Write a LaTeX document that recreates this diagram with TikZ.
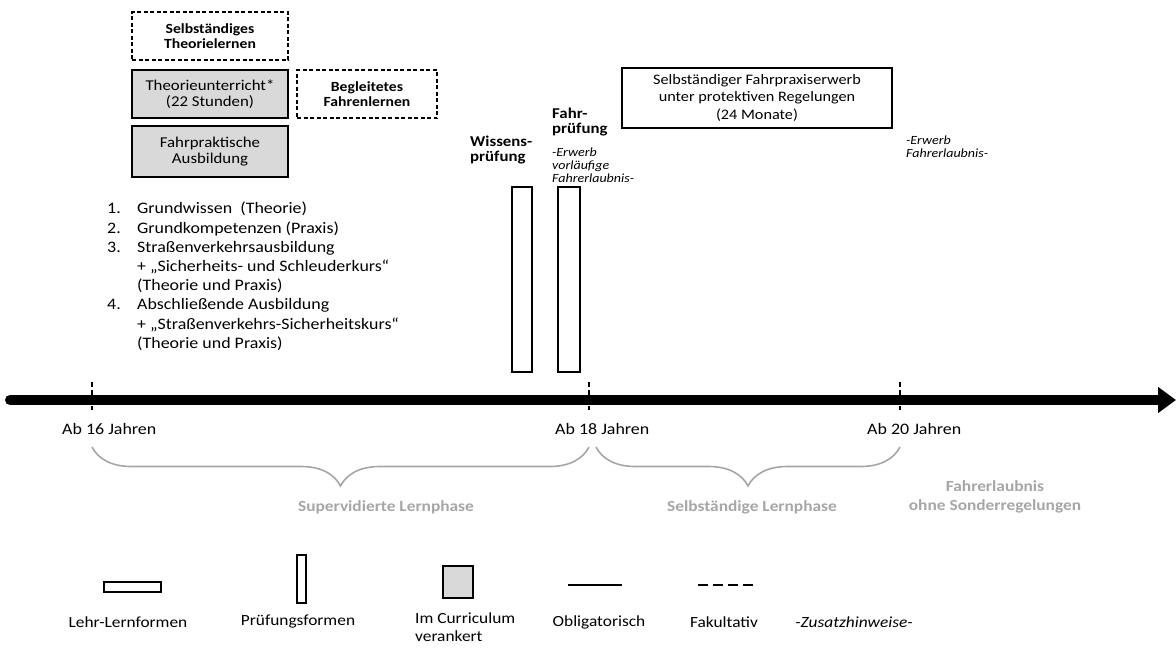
\documentclass[tikz,border=0pt]{standalone}
\usepackage{fontspec}
\setmainfont{Carlito}[FakeStretch=1.12]
\usetikzlibrary{arrows.meta,decorations.pathreplacing}

\definecolor{boxgray}{HTML}{D9D9D9}
\definecolor{phasegray}{HTML}{A6A6A6}

\begin{document}
\begin{tikzpicture}[x=1pt,y=-1pt,
  txt/.style={inner sep=0pt, font=\fontsize{16}{19.2}\selectfont},
  legtxt/.style={inner sep=0pt, font=\fontsize{15.5}{18}\selectfont},
  dashbox/.style={draw, dashed, dash pattern=on 4pt off 2.5pt, line width=1.4pt,
    inner sep=0pt, align=center, font=\bfseries\fontsize{14}{15}\selectfont},
  graybox/.style={draw, fill=boxgray, line width=1.4pt, inner sep=0pt, align=center,
    font=\fontsize{15}{16}\selectfont},
  plainbox/.style={draw, line width=1.4pt, inner sep=0pt, align=center,
    font=\fontsize{14.5}{17}\selectfont},
  exambar/.style={draw, line width=2pt, inner sep=0pt},
  tick/.style={line width=1.4pt, dash pattern=on 5pt off 3pt},
  phase/.style={decorate, decoration={brace, mirror, amplitude=39pt},
    draw=phasegray, line width=1.6pt},
  phaselabel/.style={inner sep=0pt, align=center, text=phasegray,
    font=\bfseries\fontsize{15.5}{19}\selectfont},
  note/.style={inner sep=0pt, align=left, font=\itshape\fontsize{12.5}{13}\selectfont},
  examlabel/.style={inner sep=0pt, align=left, font=\bfseries\fontsize{15}{14.5}\selectfont},
]
\useasboundingbox (0,0) rectangle (1176,651);

% --- learning forms (upper left) ---
\node[dashbox, minimum width=156pt, minimum height=48pt] (selbT) at (210,36)
  {Selbständiges\\Theorielernen};
\node[graybox, minimum width=156pt, minimum height=48pt] (theo) at (210,94)
  {Theorieunterricht*\\(22 Stunden)};
\node[dashbox, minimum width=140pt, minimum height=48pt] (begl) at (367,94)
  {Begleitetes\\Fahrenlernen};
\node[graybox, minimum width=156pt, minimum height=51pt] (fahrp) at (210,151.5)
  {Fahrpraktische\\Ausbildung};

% --- independent driving phase ---
\node[plainbox, minimum width=270pt, minimum height=60pt] (praxis) at (757,98)
  {Selbständiger Fahrpraxiserwerb\\unter protektiven Regelungen\\[1pt](24 Monate)};

% --- curriculum list ---
\node[txt, anchor=north west, align=left] (list) at (107,202) {%
\makebox[30pt][l]{1.}Grundwissen\ \ (Theorie)\\
\makebox[30pt][l]{2.}Grundkompetenzen (Praxis)\\
\makebox[30pt][l]{3.}Straßenverkehrsausbildung\\
\hspace*{30pt}+ „Sicherheits- und Schleuderkurs“\\
\hspace*{30pt}(Theorie und Praxis)\\
\makebox[30pt][l]{4.}Abschließende Ausbildung\\
\hspace*{30pt}+ „Straßenverkehrs-Sicherheitskurs“\\
\hspace*{30pt}(Theorie und Praxis)};

% --- exams ---
\node[exambar, minimum width=20pt, minimum height=185pt] (wiss) at (522,279.5) {};
\node[exambar, minimum width=22pt, minimum height=185pt] (fahr) at (569,279.5) {};
\node[examlabel, anchor=west] (wisslbl) at (470,150) {Wissens-\\prüfung};
\node[examlabel, anchor=west] (fahrlbl) at (552,122) {Fahr-\\prüfung};
\node[note, anchor=west] (erwerb1) at (552,165) {-Erwerb\\vorläufige\\Fahrerlaubnis-};
\node[note, anchor=west] (erwerb2) at (906,147) {-Erwerb\\Fahrerlaubnis-};

% --- time axis ---
\coordinate (axL) at (10,400);
\coordinate (axR) at (1176,400);
\draw[line width=10pt, line cap=round, -{Triangle[length=18pt,width=25pt]}] (axL) -- (axR);

\coordinate (t16a) at (92,382);  \coordinate (t16b) at (92,410);
\coordinate (t18a) at (589,382); \coordinate (t18b) at (589,410);
\coordinate (t20a) at (900,382); \coordinate (t20b) at (900,410);
\draw[tick] (t16a) -- (t16b);
\draw[tick] (t18a) -- (t18b);
\draw[tick] (t20a) -- (t20b);

\node[txt, anchor=west] (ab16) at (62,429) {Ab 16 Jahren};
\node[txt, anchor=west] (ab18) at (555,429) {Ab 18 Jahren};
\node[txt, anchor=west] (ab20) at (867,429) {Ab 20 Jahren};

% --- phases ---
\coordinate (p1s) at (92,447);  \coordinate (p1e) at (589,447);
\coordinate (p2s) at (596,447); \coordinate (p2e) at (900,447);
\draw[phase] (p1s) -- (p1e);
\draw[phase] (p2s) -- (p2e);
\node[phaselabel] (sup) at (386,507) {Supervidierte Lernphase};
\node[phaselabel] (selb) at (752,507) {Selbständige Lernphase};
\node[phaselabel] (ohne) at (995,497) {Fahrerlaubnis\\ohne Sonderregelungen};

% --- legend ---
\node[draw, line width=1.8pt, inner sep=0pt, minimum width=57pt, minimum height=10pt] (lgLehr) at (132.5,587) {};
\node[draw, line width=1.6pt, inner sep=0pt, minimum width=9pt, minimum height=48pt] (lgPruef) at (301.5,579) {};
\node[draw, fill=boxgray, line width=1.4pt, inner sep=0pt, minimum width=30pt, minimum height=32pt] (lgCurr) at (458,582) {};
\coordinate (lgOa) at (568,585); \coordinate (lgOb) at (622,585);
\draw[line width=1.6pt] (lgOa) -- (lgOb);
\coordinate (lgFa) at (698,585); \coordinate (lgFb) at (757,585);
\draw[line width=1.6pt, dash pattern=on 10pt off 5pt] (lgFa) -- (lgFb);

\node[legtxt] (tLehr) at (128,622) {Lehr-Lernformen};
\node[legtxt] (tPruef) at (298,622) {Prüfungsformen};
\node[legtxt, anchor=north west, align=left] (tCurr) at (415,613) {Im Curriculum\\verankert};
\node[legtxt] (tObl) at (599,622) {Obligatorisch};
\node[legtxt] (tFak) at (724,622) {Fakultativ};
\node[legtxt, font=\itshape\fontsize{15.5}{18}\selectfont] (tZus) at (854,622) {-Zusatzhinweise-};
\end{tikzpicture}
\end{document}
